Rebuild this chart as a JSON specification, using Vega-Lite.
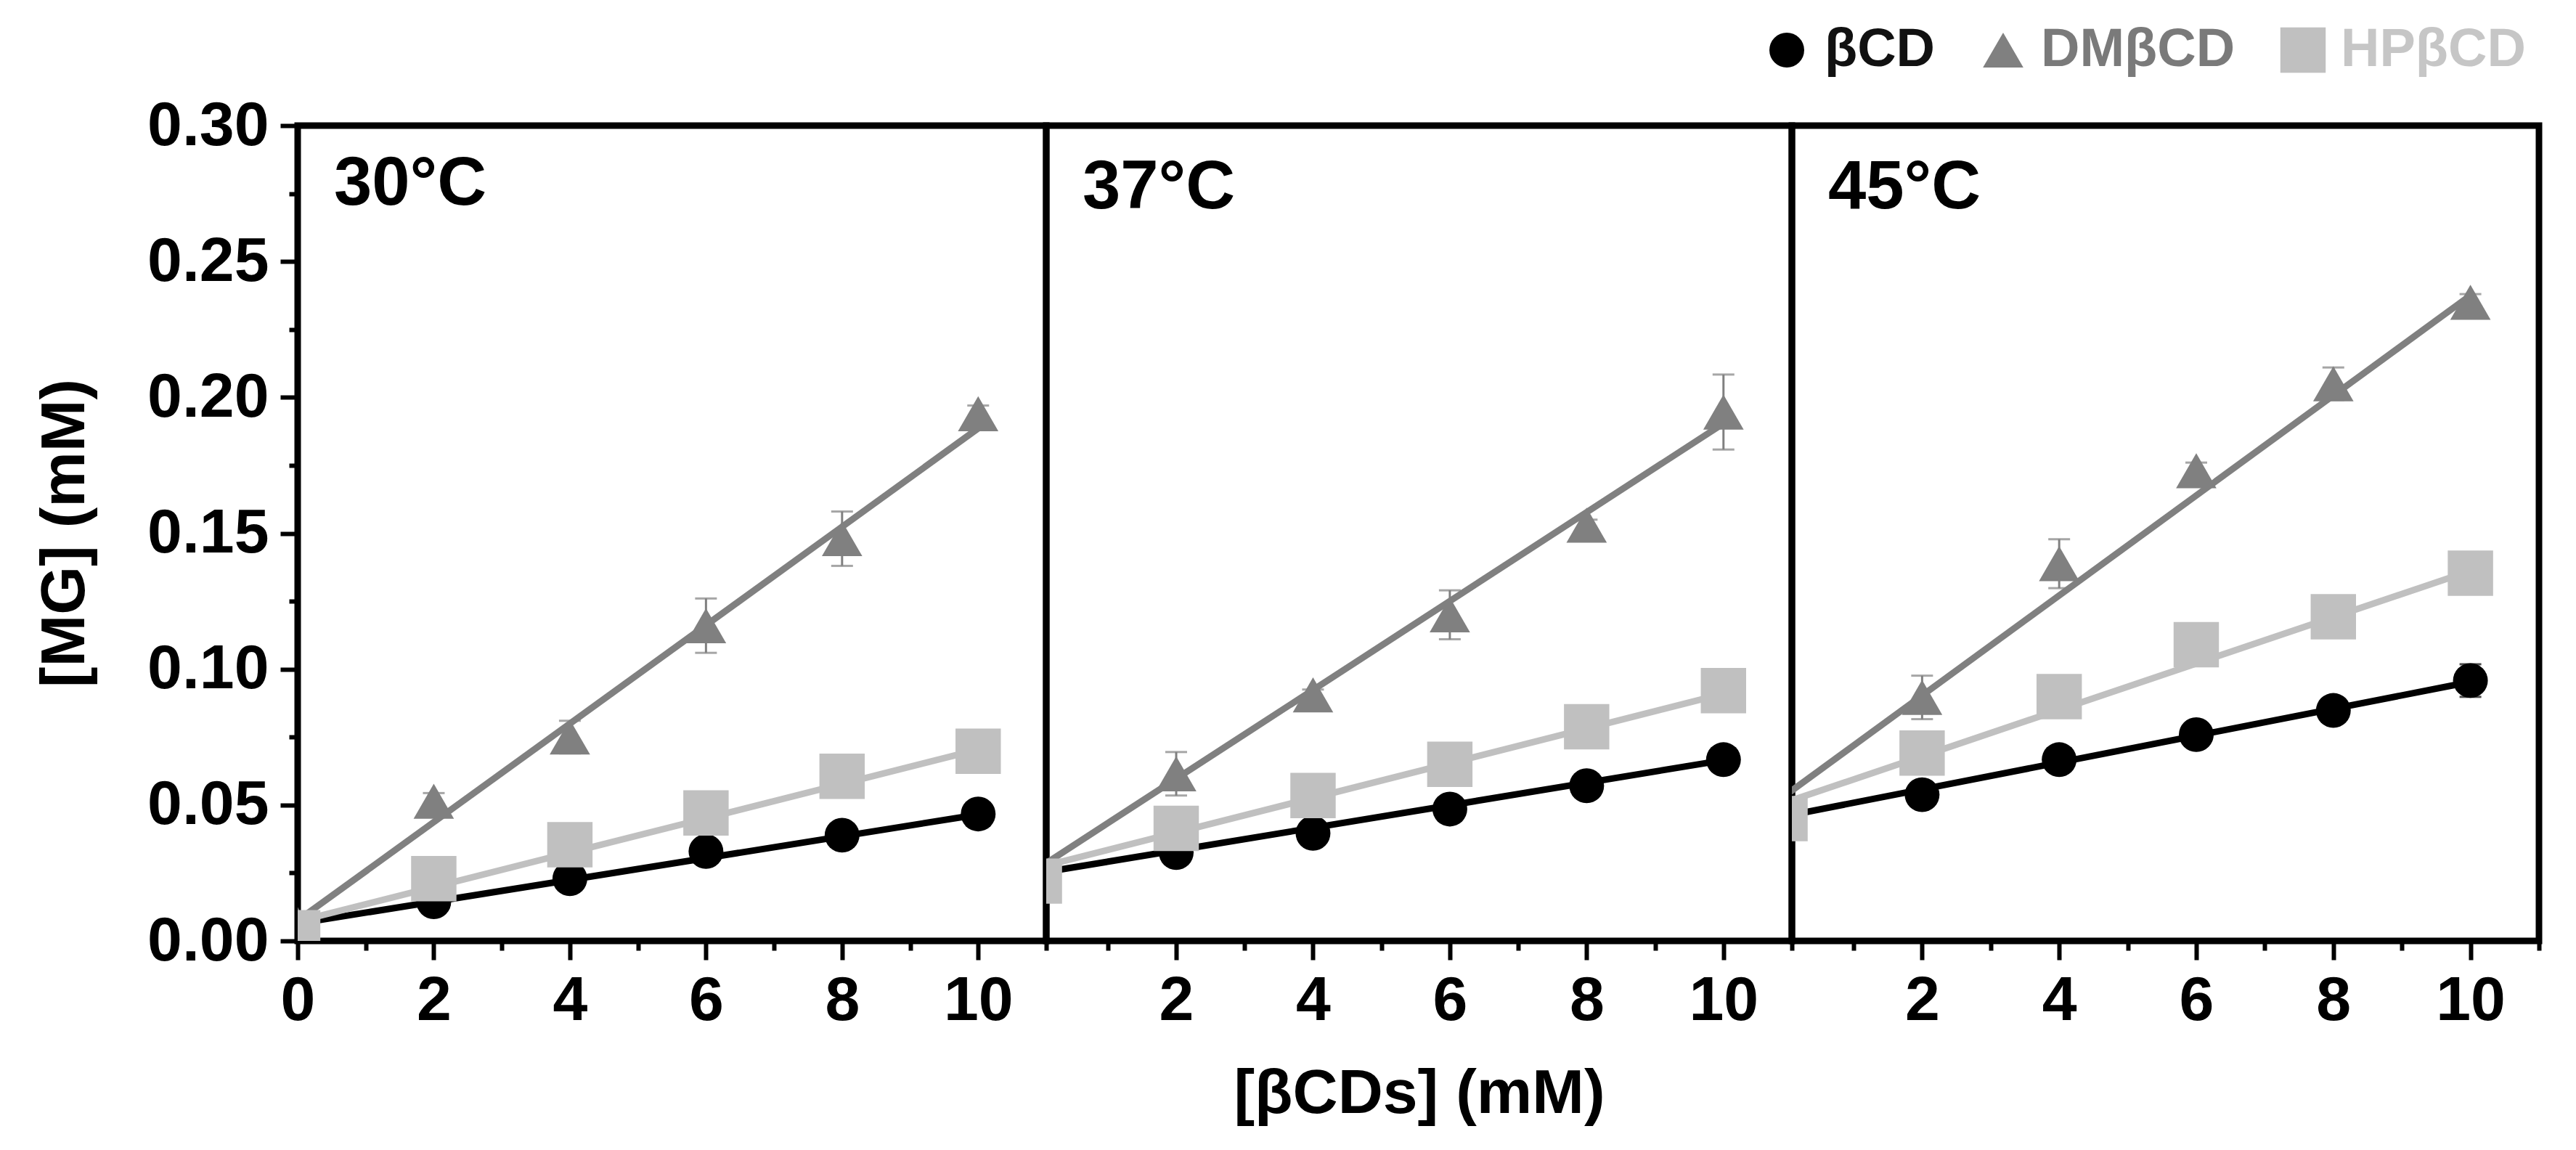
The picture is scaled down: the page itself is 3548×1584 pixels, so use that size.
{
  "$schema": "https://vega.github.io/schema/vega-lite/v6.json",
  "autosize": "none",
  "padding": {"left": 410, "top": 173, "right": 3138, "bottom": 1411},
  "background": "white",
  "bounds": "flush",
  "spacing": 0,
  "datasets": {
    "pts": [
      {"panel": "30", "cd": "βCD", "conc": 0, "mg": 0.003, "err": 0},
      {"panel": "30", "cd": "βCD", "conc": 2, "mg": 0.0144, "err": 0.001},
      {"panel": "30", "cd": "βCD", "conc": 4, "mg": 0.0229, "err": 0.001},
      {"panel": "30", "cd": "βCD", "conc": 6, "mg": 0.0329, "err": 0.001},
      {"panel": "30", "cd": "βCD", "conc": 8, "mg": 0.0389, "err": 0.001},
      {"panel": "30", "cd": "βCD", "conc": 10, "mg": 0.0467, "err": 0.002},
      {"panel": "30", "cd": "DMβCD", "conc": 0, "mg": 0.006, "err": 0},
      {"panel": "30", "cd": "DMβCD", "conc": 2, "mg": 0.0514, "err": 0.003},
      {"panel": "30", "cd": "DMβCD", "conc": 4, "mg": 0.075, "err": 0.006},
      {"panel": "30", "cd": "DMβCD", "conc": 6, "mg": 0.116, "err": 0.01},
      {"panel": "30", "cd": "DMβCD", "conc": 8, "mg": 0.148, "err": 0.01},
      {"panel": "30", "cd": "DMβCD", "conc": 10, "mg": 0.194, "err": 0.003},
      {"panel": "30", "cd": "HPβCD", "conc": 0, "mg": 0.003, "err": 0},
      {"panel": "30", "cd": "HPβCD", "conc": 2, "mg": 0.0229, "err": 0.002},
      {"panel": "30", "cd": "HPβCD", "conc": 4, "mg": 0.0354, "err": 0.002},
      {"panel": "30", "cd": "HPβCD", "conc": 6, "mg": 0.0471, "err": 0.002},
      {"panel": "30", "cd": "HPβCD", "conc": 8, "mg": 0.0606, "err": 0.002},
      {"panel": "30", "cd": "HPβCD", "conc": 10, "mg": 0.0698, "err": 0.002},
      {"panel": "37", "cd": "βCD", "conc": 0, "mg": 0.024, "err": 0},
      {"panel": "37", "cd": "βCD", "conc": 2, "mg": 0.0325, "err": 0.001},
      {"panel": "37", "cd": "βCD", "conc": 4, "mg": 0.0396, "err": 0.001},
      {"panel": "37", "cd": "βCD", "conc": 6, "mg": 0.0485, "err": 0.001},
      {"panel": "37", "cd": "βCD", "conc": 8, "mg": 0.0571, "err": 0.001},
      {"panel": "37", "cd": "βCD", "conc": 10, "mg": 0.0667, "err": 0.002},
      {"panel": "37", "cd": "DMβCD", "conc": 0, "mg": 0.024, "err": 0},
      {"panel": "37", "cd": "DMβCD", "conc": 2, "mg": 0.0615, "err": 0.008},
      {"panel": "37", "cd": "DMβCD", "conc": 4, "mg": 0.0905, "err": 0.002},
      {"panel": "37", "cd": "DMβCD", "conc": 6, "mg": 0.12, "err": 0.009},
      {"panel": "37", "cd": "DMβCD", "conc": 8, "mg": 0.153, "err": 0.002},
      {"panel": "37", "cd": "DMβCD", "conc": 10, "mg": 0.1946, "err": 0.0138},
      {"panel": "37", "cd": "HPβCD", "conc": 0, "mg": 0.022, "err": 0},
      {"panel": "37", "cd": "HPβCD", "conc": 2, "mg": 0.0414, "err": 0.002},
      {"panel": "37", "cd": "HPβCD", "conc": 4, "mg": 0.0535, "err": 0.002},
      {"panel": "37", "cd": "HPβCD", "conc": 6, "mg": 0.065, "err": 0.002},
      {"panel": "37", "cd": "HPβCD", "conc": 8, "mg": 0.0788, "err": 0.002},
      {"panel": "37", "cd": "HPβCD", "conc": 10, "mg": 0.0921, "err": 0.002},
      {"panel": "45", "cd": "βCD", "conc": 0, "mg": 0.046, "err": 0},
      {"panel": "45", "cd": "βCD", "conc": 2, "mg": 0.0538, "err": 0.001},
      {"panel": "45", "cd": "βCD", "conc": 4, "mg": 0.0667, "err": 0.001},
      {"panel": "45", "cd": "βCD", "conc": 6, "mg": 0.0759, "err": 0.001},
      {"panel": "45", "cd": "βCD", "conc": 8, "mg": 0.0848, "err": 0.002},
      {"panel": "45", "cd": "βCD", "conc": 10, "mg": 0.0958, "err": 0.006},
      {"panel": "45", "cd": "DMβCD", "conc": 0, "mg": 0.05, "err": 0},
      {"panel": "45", "cd": "DMβCD", "conc": 2, "mg": 0.0896, "err": 0.008},
      {"panel": "45", "cd": "DMβCD", "conc": 4, "mg": 0.1388, "err": 0.009},
      {"panel": "45", "cd": "DMβCD", "conc": 6, "mg": 0.173, "err": 0.003},
      {"panel": "45", "cd": "DMβCD", "conc": 8, "mg": 0.205, "err": 0.006},
      {"panel": "45", "cd": "DMβCD", "conc": 10, "mg": 0.235, "err": 0.003},
      {"panel": "45", "cd": "HPβCD", "conc": 0, "mg": 0.045, "err": 0},
      {"panel": "45", "cd": "HPβCD", "conc": 2, "mg": 0.0691, "err": 0.002},
      {"panel": "45", "cd": "HPβCD", "conc": 4, "mg": 0.0899, "err": 0.002},
      {"panel": "45", "cd": "HPβCD", "conc": 6, "mg": 0.109, "err": 0.002},
      {"panel": "45", "cd": "HPβCD", "conc": 8, "mg": 0.1193, "err": 0.002},
      {"panel": "45", "cd": "HPβCD", "conc": 10, "mg": 0.1353, "err": 0.005}
    ],
    "fits": [
      {"panel": "30", "cd": "βCD", "conc": 0, "mg": 0.0064},
      {"panel": "30", "cd": "βCD", "conc": 10, "mg": 0.0465},
      {"panel": "30", "cd": "DMβCD", "conc": 0, "mg": 0.0075},
      {"panel": "30", "cd": "DMβCD", "conc": 10, "mg": 0.1886},
      {"panel": "30", "cd": "HPβCD", "conc": 0, "mg": 0.0072},
      {"panel": "30", "cd": "HPβCD", "conc": 10, "mg": 0.0704},
      {"panel": "37", "cd": "βCD", "conc": 0, "mg": 0.025},
      {"panel": "37", "cd": "βCD", "conc": 10, "mg": 0.0665},
      {"panel": "37", "cd": "DMβCD", "conc": 0, "mg": 0.0270},
      {"panel": "37", "cd": "DMβCD", "conc": 10, "mg": 0.1904},
      {"panel": "37", "cd": "HPβCD", "conc": 0, "mg": 0.0271},
      {"panel": "37", "cd": "HPβCD", "conc": 10, "mg": 0.0909},
      {"panel": "45", "cd": "βCD", "conc": 0, "mg": 0.0459},
      {"panel": "45", "cd": "βCD", "conc": 10, "mg": 0.0953},
      {"panel": "45", "cd": "DMβCD", "conc": 0, "mg": 0.0535},
      {"panel": "45", "cd": "DMβCD", "conc": 10, "mg": 0.2375},
      {"panel": "45", "cd": "HPβCD", "conc": 0, "mg": 0.0509},
      {"panel": "45", "cd": "HPβCD", "conc": 10, "mg": 0.1362}
    ]
  },
  "hconcat": [
    {
      "width": 1031,
      "height": 1123,
      "title": {"text": "30°C", "dy": 176},
      "encoding": {
        "x": {
          "field": "conc",
          "type": "quantitative",
          "scale": {"domain": [0, 11], "nice": false, "zero": false},
          "axis": {
            "values": [0, 1, 2, 3, 4, 5, 6, 7, 8, 9, 10, 11],
            "labelExpr": "datum.value % 2 == 0 && datum.value <= 10 ? datum.label : ''",
            "tickSize": {"condition": {"test": "datum.value % 2 == 1", "value": 13}, "value": 26},
            "title": null
          }
        },
        "y": {
          "field": "mg",
          "type": "quantitative",
          "scale": {"domain": [0, 0.3], "nice": false, "zero": false},
          "axis": {
            "values": [0, 0.025, 0.05, 0.075, 0.1, 0.125, 0.15, 0.175, 0.2, 0.225, 0.25, 0.275, 0.3],
            "labelExpr": "round(datum.value * 1000) % 50 == 0 ? format(datum.value, '.2f') : ''",
            "tickSize": {"condition": {"test": "round(datum.value * 1000) % 50 != 0", "value": 12}, "value": 24},
            "labelPadding": 16,
            "title": "[MG] (mM)",
            "titleX": -295,
            "titleY": 561,
            "titleAngle": -90,
            "titleAlign": "center",
            "titleBaseline": "alphabetic"
          }
        },
        "color": {
          "field": "cd",
          "type": "nominal",
          "scale": {"domain": ["βCD", "DMβCD", "HPβCD"], "range": ["#000000", "#808080", "#c0c0c0"]},
          "legend": {"title": null}
        }
      },
      "layer": [
        {
          "data": {"name": "fits"},
          "transform": [{"filter": "datum.panel == '30'"}],
          "mark": {"type": "line", "strokeWidth": 9, "clip": true}
        },
        {
          "data": {"name": "pts"},
          "transform": [{"filter": "datum.panel == '30'"}],
          "mark": {"type": "errorbar", "ticks": true, "size": 30, "thickness": 3, "clip": true},
          "encoding": {"yError": {"field": "err"}}
        },
        {
          "data": {"name": "pts"},
          "transform": [{"filter": "datum.panel == '30'"}],
          "mark": {"type": "point", "filled": true, "opacity": 1, "clip": true},
          "encoding": {
            "shape": {
              "field": "cd",
              "type": "nominal",
              "scale": {"domain": ["βCD", "DMβCD", "HPβCD"], "range": ["circle", "triangle-up", "square"]},
              "legend": {"title": null}
            },
            "size": {
              "field": "cd",
              "type": "nominal",
              "scale": {"domain": ["βCD", "DMβCD", "HPβCD"], "range": [2300, 3900, 1750]},
              "legend": {"title": null}
            }
          }
        }
      ]
    },
    {
      "width": 1027,
      "height": 1123,
      "title": {"text": "37°C"},
      "encoding": {
        "x": {
          "field": "conc",
          "type": "quantitative",
          "scale": {"domain": [0.1, 11], "nice": false, "zero": false},
          "axis": {
            "values": [1, 2, 3, 4, 5, 6, 7, 8, 9, 10, 11],
            "labelExpr": "datum.value % 2 == 0 && datum.value <= 10 ? datum.label : ''",
            "tickSize": {"condition": {"test": "datum.value % 2 == 1", "value": 13}, "value": 26},
            "title": "[βCDs] (mM)",
            "titleY": 236,
            "titleBaseline": "alphabetic"
          }
        },
        "y": {
          "field": "mg",
          "type": "quantitative",
          "scale": {"domain": [0, 0.3], "nice": false, "zero": false},
          "axis": null
        },
        "color": {
          "field": "cd",
          "type": "nominal",
          "scale": {"domain": ["βCD", "DMβCD", "HPβCD"], "range": ["#000000", "#808080", "#c0c0c0"]},
          "legend": {"title": null}
        }
      },
      "layer": [
        {
          "data": {"name": "fits"},
          "transform": [{"filter": "datum.panel == '37'"}],
          "mark": {"type": "line", "strokeWidth": 9, "clip": true}
        },
        {
          "data": {"name": "pts"},
          "transform": [{"filter": "datum.panel == '37'"}],
          "mark": {"type": "errorbar", "ticks": true, "size": 30, "thickness": 3, "clip": true},
          "encoding": {"yError": {"field": "err"}}
        },
        {
          "data": {"name": "pts"},
          "transform": [{"filter": "datum.panel == '37'"}],
          "mark": {"type": "point", "filled": true, "opacity": 1, "clip": true},
          "encoding": {
            "shape": {
              "field": "cd",
              "type": "nominal",
              "scale": {"domain": ["βCD", "DMβCD", "HPβCD"], "range": ["circle", "triangle-up", "square"]},
              "legend": {"title": null}
            },
            "size": {
              "field": "cd",
              "type": "nominal",
              "scale": {"domain": ["βCD", "DMβCD", "HPβCD"], "range": [2300, 3900, 1750]},
              "legend": {"title": null}
            }
          }
        }
      ]
    },
    {
      "width": 1029,
      "height": 1123,
      "title": {"text": "45°C"},
      "encoding": {
        "x": {
          "field": "conc",
          "type": "quantitative",
          "scale": {"domain": [0.1, 11], "nice": false, "zero": false},
          "axis": {
            "values": [1, 2, 3, 4, 5, 6, 7, 8, 9, 10, 11],
            "labelExpr": "datum.value % 2 == 0 && datum.value <= 10 ? datum.label : ''",
            "tickSize": {"condition": {"test": "datum.value % 2 == 1", "value": 13}, "value": 26},
            "title": null
          }
        },
        "y": {
          "field": "mg",
          "type": "quantitative",
          "scale": {"domain": [0, 0.3], "nice": false, "zero": false},
          "axis": null
        },
        "color": {
          "field": "cd",
          "type": "nominal",
          "scale": {"domain": ["βCD", "DMβCD", "HPβCD"], "range": ["#000000", "#808080", "#c0c0c0"]},
          "legend": {"title": null}
        }
      },
      "layer": [
        {
          "data": {"name": "fits"},
          "transform": [{"filter": "datum.panel == '45'"}],
          "mark": {"type": "line", "strokeWidth": 9, "clip": true}
        },
        {
          "data": {"name": "pts"},
          "transform": [{"filter": "datum.panel == '45'"}],
          "mark": {"type": "errorbar", "ticks": true, "size": 30, "thickness": 3, "clip": true},
          "encoding": {"yError": {"field": "err"}}
        },
        {
          "data": {"name": "pts"},
          "transform": [{"filter": "datum.panel == '45'"}],
          "mark": {"type": "point", "filled": true, "opacity": 1, "clip": true},
          "encoding": {
            "shape": {
              "field": "cd",
              "type": "nominal",
              "scale": {"domain": ["βCD", "DMβCD", "HPβCD"], "range": ["circle", "triangle-up", "square"]},
              "legend": {"title": null}
            },
            "size": {
              "field": "cd",
              "type": "nominal",
              "scale": {"domain": ["βCD", "DMβCD", "HPβCD"], "range": [2300, 3900, 1750]},
              "legend": {"title": null}
            }
          }
        }
      ]
    }
  ],
  "resolve": {"scale": {"color": "shared", "shape": "shared", "size": "shared"}},
  "config": {
    "font": "Liberation Sans",
    "view": {"stroke": "#000000", "strokeWidth": 9},
    "axis": {
      "grid": false,
      "domain": false,
      "tickColor": "#000000",
      "tickWidth": 6,
      "labelFont": "Liberation Sans",
      "labelFontSize": 86,
      "labelFontWeight": "bold",
      "labelColor": "#000000",
      "labelPadding": 14,
      "labelOverlap": false,
      "labelFlush": false,
      "labelBound": false,
      "titleFont": "Liberation Sans",
      "titleFontSize": 86,
      "titleFontWeight": "bold",
      "titleColor": "#000000"
    },
    "title": {
      "anchor": "start",
      "frame": "group",
      "orient": "top",
      "offset": 0,
      "baseline": "alphabetic",
      "dx": 50,
      "dy": 138,
      "font": "Liberation Sans",
      "fontSize": 94,
      "fontWeight": "bold",
      "color": "#000000"
    },
    "legend": {
      "orient": "none",
      "legendX": 2014,
      "legendY": -141,
      "direction": "horizontal",
      "padding": 0,
      "columnPadding": 56,
      "labelOffset": 15,
      "labelLimit": 1000,
      "labelFont": "Liberation Sans",
      "labelFontSize": 74,
      "labelFontWeight": "bold",
      "labelColor": {"expr": "datum.value == 'βCD' ? '#111111' : datum.value == 'DMβCD' ? '#7a7a7a' : '#c6c6c6'"},
      "symbolOpacity": 1,
      "symbolStrokeWidth": 0
    }
  }
}
